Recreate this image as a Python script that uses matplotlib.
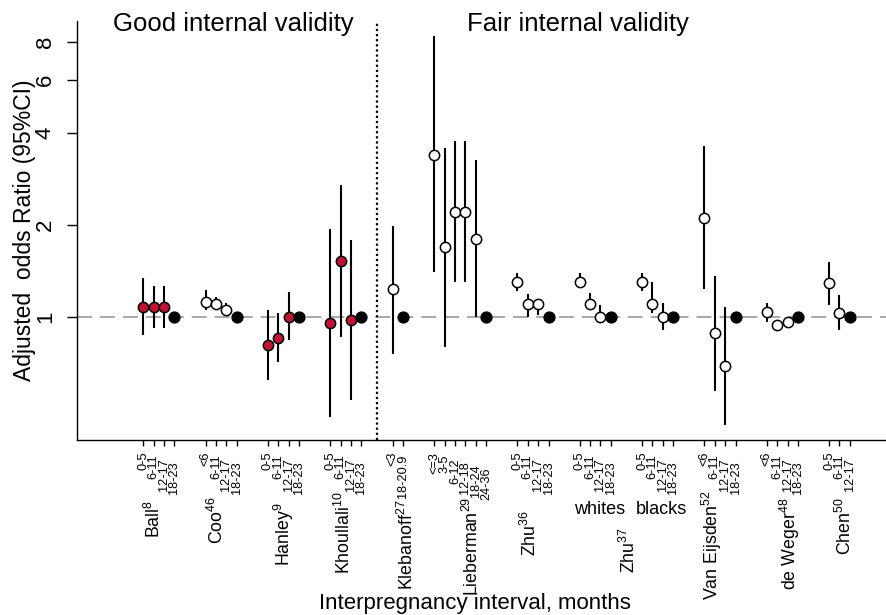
import matplotlib
matplotlib.use('Agg')
from matplotlib import pyplot as plt
from matplotlib.ticker import FixedLocator, NullLocator

plt.rcParams['font.family'] = ['Liberation Sans', 'DejaVu Sans']
plt.rcParams['mathtext.fontset'] = 'custom'
plt.rcParams['mathtext.rm'] = 'Liberation Sans'
plt.rcParams['mathtext.it'] = 'Liberation Sans'

# Intervalos de cada grupo de estudio (el último es siempre la referencia, OR=1)
intervalos = [
    ['0-5', '6-11', '12-17', '18-23'],            # Ball
    ['<6', '6-11', '12-17', '18-23'],             # Coo
    ['0-5', '6-11', '12-17', '18-23'],            # Hanley
    ['0-5', '6-11', '12-17', '18-23'],            # Khoullali
    ['<3', '18-20.9'],                            # Klebanoff
    ['<=3', '3-5', '6-12', '12-18', '18-24', '24-36'],  # Lieberman
    ['0-5', '6-11', '12-17', '18-23'],            # Zhu 36
    ['0-5', '6-11', '12-17', '18-23'],            # Zhu 37 whites
    ['0-5', '6-11', '12-17', '18-23'],            # Zhu 37 blacks
    ['<6', '6-11', '12-17', '18-23'],             # Van Eijsden
    ['<6', '6-11', '12-17', '18-23'],             # de Weger
    ['0-5', '6-11', '12-17'],                     # Chen
]

# Odds ratio ajustados (sin la categoría de referencia)
odds = [
    [1.08, 1.08, 1.08],
    [1.12, 1.105, 1.05],
    [0.807, 0.849, 1.0],
    [0.956, 1.527, 0.974],
    [1.23],
    [3.39, 1.70, 2.20, 2.20, 1.80],
    [1.30, 1.105, 1.105],
    [1.30, 1.105, 1.0],
    [1.30, 1.105, 1.0],
    [2.11, 0.882, 0.689],
    [1.034, 0.939, 0.963],
    [1.29, 1.03],
]
ic_inf = [
    [0.87, 0.92, 0.92],
    [1.05, 1.05, 1.013],
    [0.62, 0.712, 0.838],
    [0.47, 0.855, 0.533],
    [0.753],
    [1.405, 0.797, 1.30, 1.30, 1.0],
    [1.21, 1.0, 1.013],
    [1.25, 1.05, 0.963],
    [1.21, 1.026, 0.904],
    [1.23, 0.572, 0.441],
    [0.963, 0.92, 0.94],
    [1.093, 0.904],
]
ic_sup = [
    [1.34, 1.26, 1.26],
    [1.22, 1.16, 1.106],
    [1.052, 1.026, 1.208],
    [1.935, 2.70, 1.785],
    [1.99],
    [8.36, 3.57, 3.78, 3.78, 3.28],
    [1.39, 1.19, 1.14],
    [1.39, 1.20, 1.09],
    [1.39, 1.30, 1.106],
    [3.63, 1.36, 1.073],
    [1.106, 0.96, 0.985],
    [1.515, 1.178],
]

# Nombres de los estudios con su referencia bibliográfica
nombres = ['Ball', 'Coo', 'Hanley', 'Khoullali', 'Klebanoff', 'Lieberman',
           'Zhu', 'Zhu', 'Van Eijsden', 'de Weger', 'Chen']
referencias = ['8', '46', '9', '10', '27', '29', '36', '37', '52', '48', '50']

# --- Estilo y colocación ---
rojo = '#C01437'
grupo_rojo = [True, False, True, True, False, False, False, False, False, False, False, False]
# posición x (en huecos) y distancia en px bajo el eje de cada nombre
nombre_x = [1.0, 7.1, 13.5, 19.3, 25.4, 31.6, 37.2, 46.7, 54.7, 62.2, 67.5]
nombre_dy = [60, 56, 62, 51, 60, 57, 70, 87, 50, 58, 57]

fig = plt.figure(figsize=(8.86, 6.15), dpi=100)
ax = fig.add_axes([76.7 / 886, 175 / 615, 809.3 / 886, 419.3 / 615])

# Línea de referencia OR = 1
ax.axhline(1, color='#A8A8A8', lw=1.4, ls=(0, (7.7, 4.1)), zorder=1)

pos = 0
ticks, etiquetas, escalon = [], [], []
for g, ints in enumerate(intervalos):
    xs = [pos + i for i in range(len(ints))]
    ticks += xs
    etiquetas += ints
    escalon += list(range(len(ints)))
    n = len(odds[g])
    ax.vlines(xs[:n], ic_inf[g], ic_sup[g], color='black', lw=1.5, zorder=2)
    ax.plot(xs[:n], odds[g], 'o', ms=7.4, mfc=rojo if grupo_rojo[g] else 'white',
            mec='black', mew=1.1, zorder=3)
    ax.plot(xs[-1], 1, 'o', ms=8.0, mfc='black', mec='black', mew=0.8, zorder=3)
    pos += len(ints) + 2

# Separación entre validez buena y aceptable
ax.axvline(22.5, color='black', lw=1.6, ls=(0, (1, 1.3)), zorder=1)

ax.set_yscale('log')
ax.set_ylim(0.3938, 9.37)
ax.set_xlim(-6.41, 71.48)
ax.yaxis.set_major_locator(FixedLocator([1, 2, 4, 6, 8]))
ax.yaxis.set_minor_locator(NullLocator())
ax.set_yticklabels(['1', '2', '4', '6', '8'], rotation=90, va='center')
ax.tick_params(axis='y', length=7, width=1, pad=8, labelsize=16)

ax.set_xticks(ticks)
ax.set_xticklabels(etiquetas, rotation=90, va='top', ha='center', fontsize=9.2)
ax.tick_params(axis='x', length=4.5, width=1)
for t, k in zip(ax.xaxis.get_major_ticks(), escalon):
    t.set_pad(4 + 2.2 * k)

for lado in ['top', 'right']:
    ax.spines[lado].set_visible(False)
for lado in ['left', 'bottom']:
    ax.spines[lado].set_linewidth(1)

# Nombres de estudios bajo el eje
for nom, ref, x, dy in zip(nombres, referencias, nombre_x, nombre_dy):
    ax.annotate(nom + '$^{' + ref + '}$', xy=(x, 0), xycoords=('data', 'axes fraction'),
                xytext=(0, -dy), textcoords='offset pixels', rotation=90,
                ha='center', va='top', fontsize=12.8, annotation_clip=False)
for txt, x in [('whites', 43.9), ('blacks', 49.9)]:
    ax.annotate(txt, xy=(x, 0), xycoords=('data', 'axes fraction'),
                xytext=(0, -70), textcoords='offset pixels',
                ha='center', va='center', fontsize=13, annotation_clip=False)

ax.text(8.7, 0.992, 'Good internal validity', transform=ax.get_xaxis_transform(),
        ha='center', va='center', fontsize=18.5)
ax.text(41.8, 0.992, 'Fair internal validity', transform=ax.get_xaxis_transform(),
        ha='center', va='center', fontsize=18.5)

fig.text(25 / 886, 1 - 230 / 615, 'Adjusted  odds Ratio (95%CI)', rotation=90,
         ha='center', va='center', fontsize=16.5)
fig.text(475 / 886, 1 - 604 / 615, 'Interpregnancy interval, months',
         ha='center', va='center', fontsize=16)

fig.savefig('out.png', dpi=100)
